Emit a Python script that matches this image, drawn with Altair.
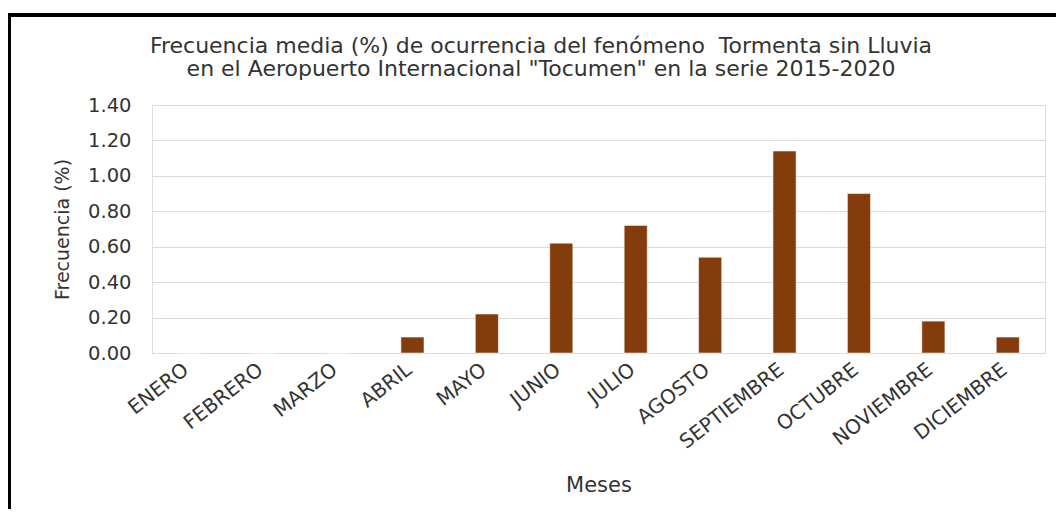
import altair as alt
import pandas as pd

meses = ["ENERO", "FEBRERO", "MARZO", "ABRIL", "MAYO", "JUNIO", "JULIO",
         "AGOSTO", "SEPTIEMBRE", "OCTUBRE", "NOVIEMBRE", "DICIEMBRE"]
frecuencia = [0.0, 0.0, 0.0, 0.09, 0.22, 0.62, 0.72, 0.54, 1.14, 0.90, 0.18, 0.09]
y_ticks = [0.0, 0.2, 0.4, 0.6, 0.8, 1.0, 1.2, 1.4]

titulo = ["Frecuencia media (%) de ocurrencia del fenómeno\u00a0 Tormenta sin Lluvia",
          "en el Aeropuerto Internacional \"Tocumen\" en la serie 2015-2020"]

df = pd.DataFrame({"Mes": meses, "Frecuencia": frecuencia})

FONT = "DejaVu Sans"
TXT = "#333333"
W, H = 893, 248

bars = alt.Chart(df).mark_bar(color="#843C0C", stroke="#ffffff", strokeOpacity=0.5, strokeWidth=1).encode(
    x=alt.X("Mes:N", sort=meses,
            scale=alt.Scale(paddingInner=0.69, paddingOuter=0.345),
            axis=alt.Axis(title="Meses", labelAngle=-38, labelAlign="right", labelBaseline="middle",
                          labelPadding=14, labelOffset=-3, labelFontSize=20, labelFont=FONT, labelColor=TXT,
                          ticks=False, domain=True, domainColor="#d9d9d9",
                          titleFont=FONT, titleFontSize=21, titleFontWeight="normal", titleColor=TXT,
                          titleY=138, titleBaseline="alphabetic", labelOverlap=False)),
    y=alt.Y("Frecuencia:Q", scale=alt.Scale(domain=[0, 1.4], nice=False),
            axis=alt.Axis(title="Frecuencia  (%)", values=y_ticks, format=".2f",
                          labelFontSize=19.5, labelFont=FONT, labelColor=TXT, labelPadding=21,
                          ticks=False, domain=False, grid=True, gridColor="#d9d9d9", gridWidth=1,
                          titleFont=FONT, titleFontSize=19, titleFontWeight="normal", titleColor=TXT,
                          titleX=-90, titleY=124, titleAngle=-90, titleBaseline="middle",
                          titleAlign="center")),
)

frame_df = pd.DataFrame({"k": [0]})
title_mark = alt.Chart(frame_df).mark_text(
    text=titulo, font=FONT, fontSize=22, color=TXT, align="center", baseline="middle",
    lineHeight=23).encode(x=alt.value(389), y=alt.value(-59))
top_rule = alt.Chart(frame_df).mark_rule(color="black", strokeWidth=4).encode(
    x=alt.value(-145), x2=alt.value(W + 11), y=alt.value(-90))
left_rule = alt.Chart(frame_df).mark_rule(color="black", strokeWidth=4).encode(
    x=alt.value(-143), y=alt.value(-92), y2=alt.value(H + 156))

chart = alt.layer(bars, title_mark, top_rule, left_rule).properties(
    width=W, height=H,
    autosize=alt.AutoSizeParams(type="none"),
    padding={"left": 144, "top": 97, "right": 11, "bottom": 156},
).configure_view(stroke=None).configure(background="white")

chart.save("out.html", embed_options={"renderer": "svg", "actions": False})
